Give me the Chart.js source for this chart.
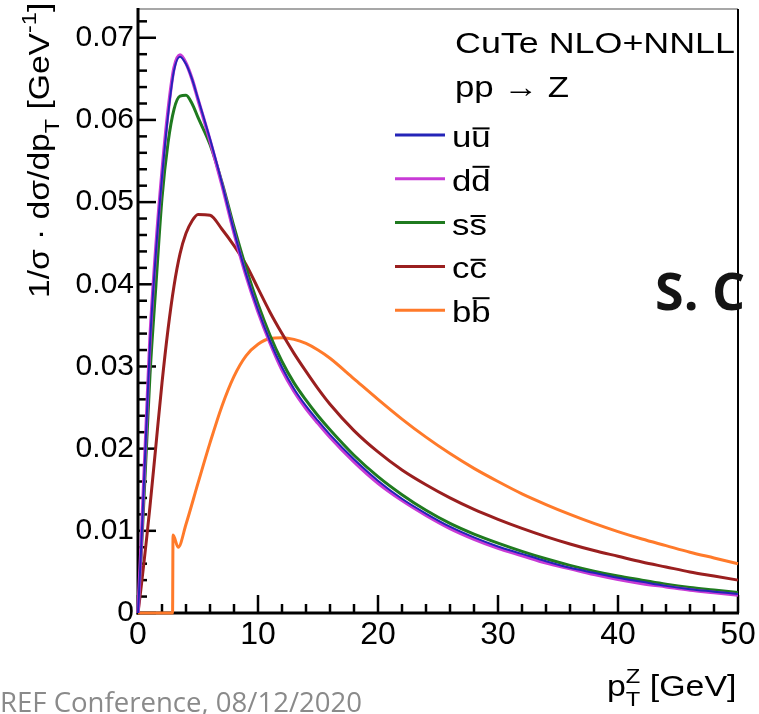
<!DOCTYPE html>
<html>
<head>
<meta charset="utf-8">
<script src="https://cdn.jsdelivr.net/npm/chart.js@4.4.0/dist/chart.umd.min.js"></script>
<style>
  html, body { margin: 0; padding: 0; background: #fff; }
  #wrap { width: 759px; height: 714px; }
</style>
</head>
<body>
<div id="wrap"><canvas id="ptChart" width="759" height="714"></canvas></div>
<script>
// pT grid (GeV) shared by the u, d, s and c curves
const ptGrid = [0, 0.25, 0.5, 0.75, 1, 1.5, 2, 2.5, 3, 3.5, 4, 4.5, 5, 6, 7, 8, 9, 10, 11, 12, 13, 14, 15, 16,
                18, 20, 22, 24, 26, 28, 30, 32, 34, 36, 38, 40, 42, 44, 46, 48, 50];

// 1/sigma dsigma/dpT [GeV^-1]
const uuVals = [0, 0.0075, 0.0160, 0.0245, 0.0328, 0.0440, 0.0530, 0.0605, 0.0660, 0.0677, 0.0668, 0.0650, 0.0626,
                0.0577, 0.0523, 0.0465, 0.0413, 0.0369, 0.0331, 0.0299, 0.0273, 0.0252, 0.0234, 0.0217,
                0.0187, 0.0161, 0.0139, 0.0121, 0.0105, 0.0092, 0.0081, 0.0072, 0.0063, 0.0055,
                0.0049, 0.0043, 0.0038, 0.0033, 0.0029, 0.0026, 0.0023];
const ddVals = [0, 0.0078, 0.0165, 0.0250, 0.0333, 0.0446, 0.0536, 0.0610, 0.0663, 0.0679, 0.0669, 0.0650, 0.0625,
                0.0575, 0.0521, 0.0463, 0.0411, 0.0367, 0.0329, 0.0296, 0.0270, 0.0249, 0.0231, 0.0214,
                0.0184, 0.0158, 0.0137, 0.0119, 0.0103, 0.0090, 0.0079, 0.0070, 0.0061, 0.0054,
                0.0047, 0.0041, 0.0036, 0.0032, 0.0028, 0.0025, 0.0022];
const ssVals = [0, 0.0065, 0.0140, 0.0215, 0.0290, 0.0400, 0.0505, 0.0572, 0.0613, 0.0629, 0.0630, 0.0620, 0.0603,
                0.0570, 0.0524, 0.0470, 0.0420, 0.0376, 0.0338, 0.0306, 0.0280, 0.0259, 0.0240, 0.0223,
                0.0192, 0.0166, 0.0144, 0.0125, 0.0109, 0.0096, 0.0085, 0.0075, 0.0066, 0.0058,
                0.0051, 0.0045, 0.0040, 0.0035, 0.0031, 0.0028, 0.0025];
const ccVals = [0, 0.0030, 0.0062, 0.0095, 0.0130, 0.0205, 0.0280, 0.0345, 0.0398, 0.0437, 0.0462, 0.0477, 0.0485,
                0.0484, 0.0467, 0.0447, 0.0424, 0.0395, 0.0366, 0.0340, 0.0316, 0.0294, 0.0273, 0.0254,
                0.0222, 0.0196, 0.0174, 0.0156, 0.0140, 0.0126, 0.0114, 0.0103, 0.0093, 0.0084,
                0.0076, 0.0069, 0.0062, 0.0056, 0.0050, 0.0045, 0.0040];

// b-bbar has its own grid: zero below the b threshold, then a step
const bbPt   = [0, 2.88, 2.92, 3.35, 4, 5, 6, 7, 8, 9, 10, 11, 12, 13, 14, 15, 16,
                18, 20, 22, 24, 26, 28, 30, 32, 34, 36, 38, 40, 42, 44, 46, 48, 50];
const bbVals = [0, 0, 0.0095, 0.0080, 0.0108, 0.0158, 0.0207, 0.0252, 0.0288, 0.0313, 0.0327, 0.0334, 0.0335,
                0.0333, 0.0328, 0.0320, 0.0310, 0.0285, 0.0260, 0.0236, 0.0214, 0.0194, 0.0176, 0.0160,
                0.0145, 0.0132, 0.0120, 0.0109, 0.0099, 0.0090, 0.0082, 0.0074, 0.0067, 0.0060];

const flavours = ['u', 'd', 's', 'c', 'b'];
const headerText = 'CuTe NLO+NNLL';
const processText = 'pp \u2192 Z';

const ROOT_FONT = '"Liberation Sans", Arial, sans-serif';
const Y_MAX = 0.0735;

function toPoints(xs, ys) {
    return xs.map((x, i) => ({ x: x, y: ys[i] }));
}

function curve(q, xs, ys, colour, width) {
    return {
        label: q + q + '\u0305',
        flavour: q,
        data: toPoints(xs, ys),
        borderColor: colour,
        backgroundColor: colour,
        borderWidth: width,
        pointRadius: 0,
        fill: false,
        clip: false,
        cubicInterpolationMode: 'monotone'
    };
}

// pieces: {t, dy (fraction of size), scale, bar, stay}
function drawRich(ctx, pieces, x, y, size, sx) {
    ctx.save();
    ctx.translate(x, y);
    ctx.scale(sx, 1);
    ctx.textBaseline = 'alphabetic';
    ctx.textAlign = 'left';
    let cx = 0;
    pieces.forEach(p => {
        const fs = size * (p.scale || 1);
        const py = (p.dy || 0) * size;
        ctx.font = fs + 'px ' + ROOT_FONT;
        ctx.fillText(p.t, cx, py);
        const w = ctx.measureText(p.t).width;
        if (p.bar) {
            const tall = 'bdfhklt'.indexOf(p.t) >= 0;
            const by = py - fs * (tall ? 0.80 : 0.62);
            ctx.fillRect(cx + 1, by - 1, w - 2, 2);
        }
        if (!p.stay) cx += w;
    });
    ctx.restore();
}

function fitText(ctx, text, x, y, font, width, colour) {
    ctx.save();
    ctx.font = font;
    ctx.fillStyle = colour;
    ctx.textBaseline = 'alphabetic';
    const w = ctx.measureText(text).width;
    ctx.translate(x, y);
    ctx.scale(width / w, 1);
    ctx.fillText(text, 0, 0);
    ctx.restore();
}

// ROOT-style frame: ticks point into the pad
const framePlugin = {
    id: 'rootFrame',
    beforeDatasetsDraw(chart) {
        const { ctx, chartArea: a, scales: { x, y } } = chart;
        ctx.save();
        ctx.lineCap = 'butt';

        ctx.lineWidth = 1.5;
        ctx.strokeStyle = '#8a8a8a';
        ctx.beginPath(); ctx.moveTo(a.left, a.top); ctx.lineTo(a.right, a.top); ctx.stroke();

        ctx.strokeStyle = '#000';
        ctx.lineWidth = 2;
        ctx.beginPath(); ctx.moveTo(a.right, a.top); ctx.lineTo(a.right, a.bottom); ctx.stroke();
        ctx.lineWidth = 3;
        ctx.beginPath(); ctx.moveTo(a.left, a.top - 1); ctx.lineTo(a.left, a.bottom + 1.5); ctx.stroke();
        ctx.beginPath(); ctx.moveTo(a.left - 1.5, a.bottom); ctx.lineTo(a.right + 1, a.bottom); ctx.stroke();

        ctx.lineWidth = 2.5;
        for (let k = 0; k * 0.002 <= Y_MAX; k++) {
            const py = y.getPixelForValue(k * 0.002);
            const len = k % 5 === 0 ? 18 : 9;
            ctx.beginPath(); ctx.moveTo(a.left, py); ctx.lineTo(a.left + len, py); ctx.stroke();
        }
        for (let k = 0; k <= 25; k++) {
            const px = x.getPixelForValue(k * 2);
            const len = k % 5 === 0 ? 18 : 9;
            ctx.beginPath(); ctx.moveTo(px, a.bottom); ctx.lineTo(px, a.bottom - len); ctx.stroke();
        }
        ctx.restore();
    },
    afterDraw(chart) {
        const ctx = chart.ctx;
        ctx.save();
        ctx.fillStyle = '#000';

        // header
        fitText(ctx, headerText, 455, 53, '30px ' + ROOT_FONT, 280, '#000');
        drawRich(ctx, [{ t: processText }], 455, 97, 30, 1.16);

        // legend
        chart.data.datasets.forEach((ds, i) => {
            const ly = 135 + i * 43.8;
            ctx.strokeStyle = ds.borderColor;
            ctx.lineWidth = 3;
            ctx.beginPath(); ctx.moveTo(395, ly); ctx.lineTo(445, ly); ctx.stroke();
            ctx.fillStyle = '#000';
            drawRich(ctx, [{ t: ds.flavour }, { t: ds.flavour, bar: true }], 452, ly + 12, 30, 1.16);
        });

        // y title
        ctx.save();
        ctx.translate(49, 298);
        ctx.rotate(-Math.PI / 2);
        ctx.fillStyle = '#000';
        drawRich(ctx, [
            { t: '1/\u03c3 \u00b7 d\u03c3/dp' },
            { t: 'T', dy: 0.32, scale: 0.7 },
            { t: ' [GeV' },
            { t: '-1', dy: -0.45, scale: 0.7 },
            { t: ']' }
        ], 0, 0, 30, 1.12);
        ctx.restore();

        // x title
        ctx.fillStyle = '#000';
        drawRich(ctx, [
            { t: 'p' },
            { t: 'Z', dy: -0.42, scale: 0.7, stay: true },
            { t: 'T', dy: 0.32, scale: 0.7 },
            { t: ' [GeV]' }
        ], 607, 696, 30, 1.13);

        // slide overlay text
        ctx.fillStyle = '#141414';
        ctx.font = 'bold 52px "Open Sans", sans-serif';
        ctx.textBaseline = 'alphabetic';
        ctx.fillText('S. C', 655, 310);
        fitText(ctx, 'REF Conference, 08/12/2020', 0, 712, '27px "Open Sans", sans-serif', 362, '#8a8a8a');
        ctx.restore();
    }
};

function buildChart() {
    new Chart(document.getElementById('ptChart').getContext('2d'), {
        type: 'line',
        data: {
            datasets: [
                curve(flavours[0], ptGrid, uuVals, '#2424b8', 2),
                curve(flavours[1], ptGrid, ddVals, '#c83ad6', 3.5),
                curve(flavours[2], ptGrid, ssVals, '#1f7a1f', 3),
                curve(flavours[3], ptGrid, ccVals, '#9a1f1f', 3),
                curve(flavours[4], bbPt, bbVals, '#ff7a2a', 3)
            ]
        },
        options: {
            responsive: false,
            animation: false,
            events: [],
            layout: { padding: { left: 0, right: 21, top: 9, bottom: 61 } },
            plugins: { legend: { display: false }, tooltip: { enabled: false } },
            scales: {
                x: {
                    type: 'linear',
                    min: 0,
                    max: 50,
                    grid: { display: false, drawTicks: false },
                    border: { display: false },
                    ticks: {
                        stepSize: 10,
                        autoSkip: false,
                        maxRotation: 0,
                        padding: 3,
                        color: '#000',
                        font: { family: ROOT_FONT, size: 32 },
                        callback: v => String(v)
                    },
                    afterFit: s => { s.height = 40; s.paddingLeft = 0; s.paddingRight = 0; }
                },
                y: {
                    type: 'linear',
                    min: 0,
                    max: Y_MAX,
                    grid: { display: false, drawTicks: false },
                    border: { display: false },
                    ticks: {
                        stepSize: 0.01,
                        includeBounds: false,
                        autoSkip: false,
                        padding: 4,
                        color: '#000',
                        font: { family: ROOT_FONT, size: 30 },
                        callback: v => (v === 0 ? '0' : v.toFixed(2))
                    },
                    afterFit: s => { s.width = 138; s.paddingTop = 0; s.paddingBottom = 0; }
                }
            }
        },
        plugins: [framePlugin]
    });
}

// make sure the system fonts are resolved before the canvas is painted
Promise.all([
    document.fonts.load('30px "Liberation Sans"'),
    document.fonts.load('bold 52px "Open Sans"'),
    document.fonts.load('27px "Open Sans"')
]).then(buildChart, buildChart);
</script>
</body>
</html>
